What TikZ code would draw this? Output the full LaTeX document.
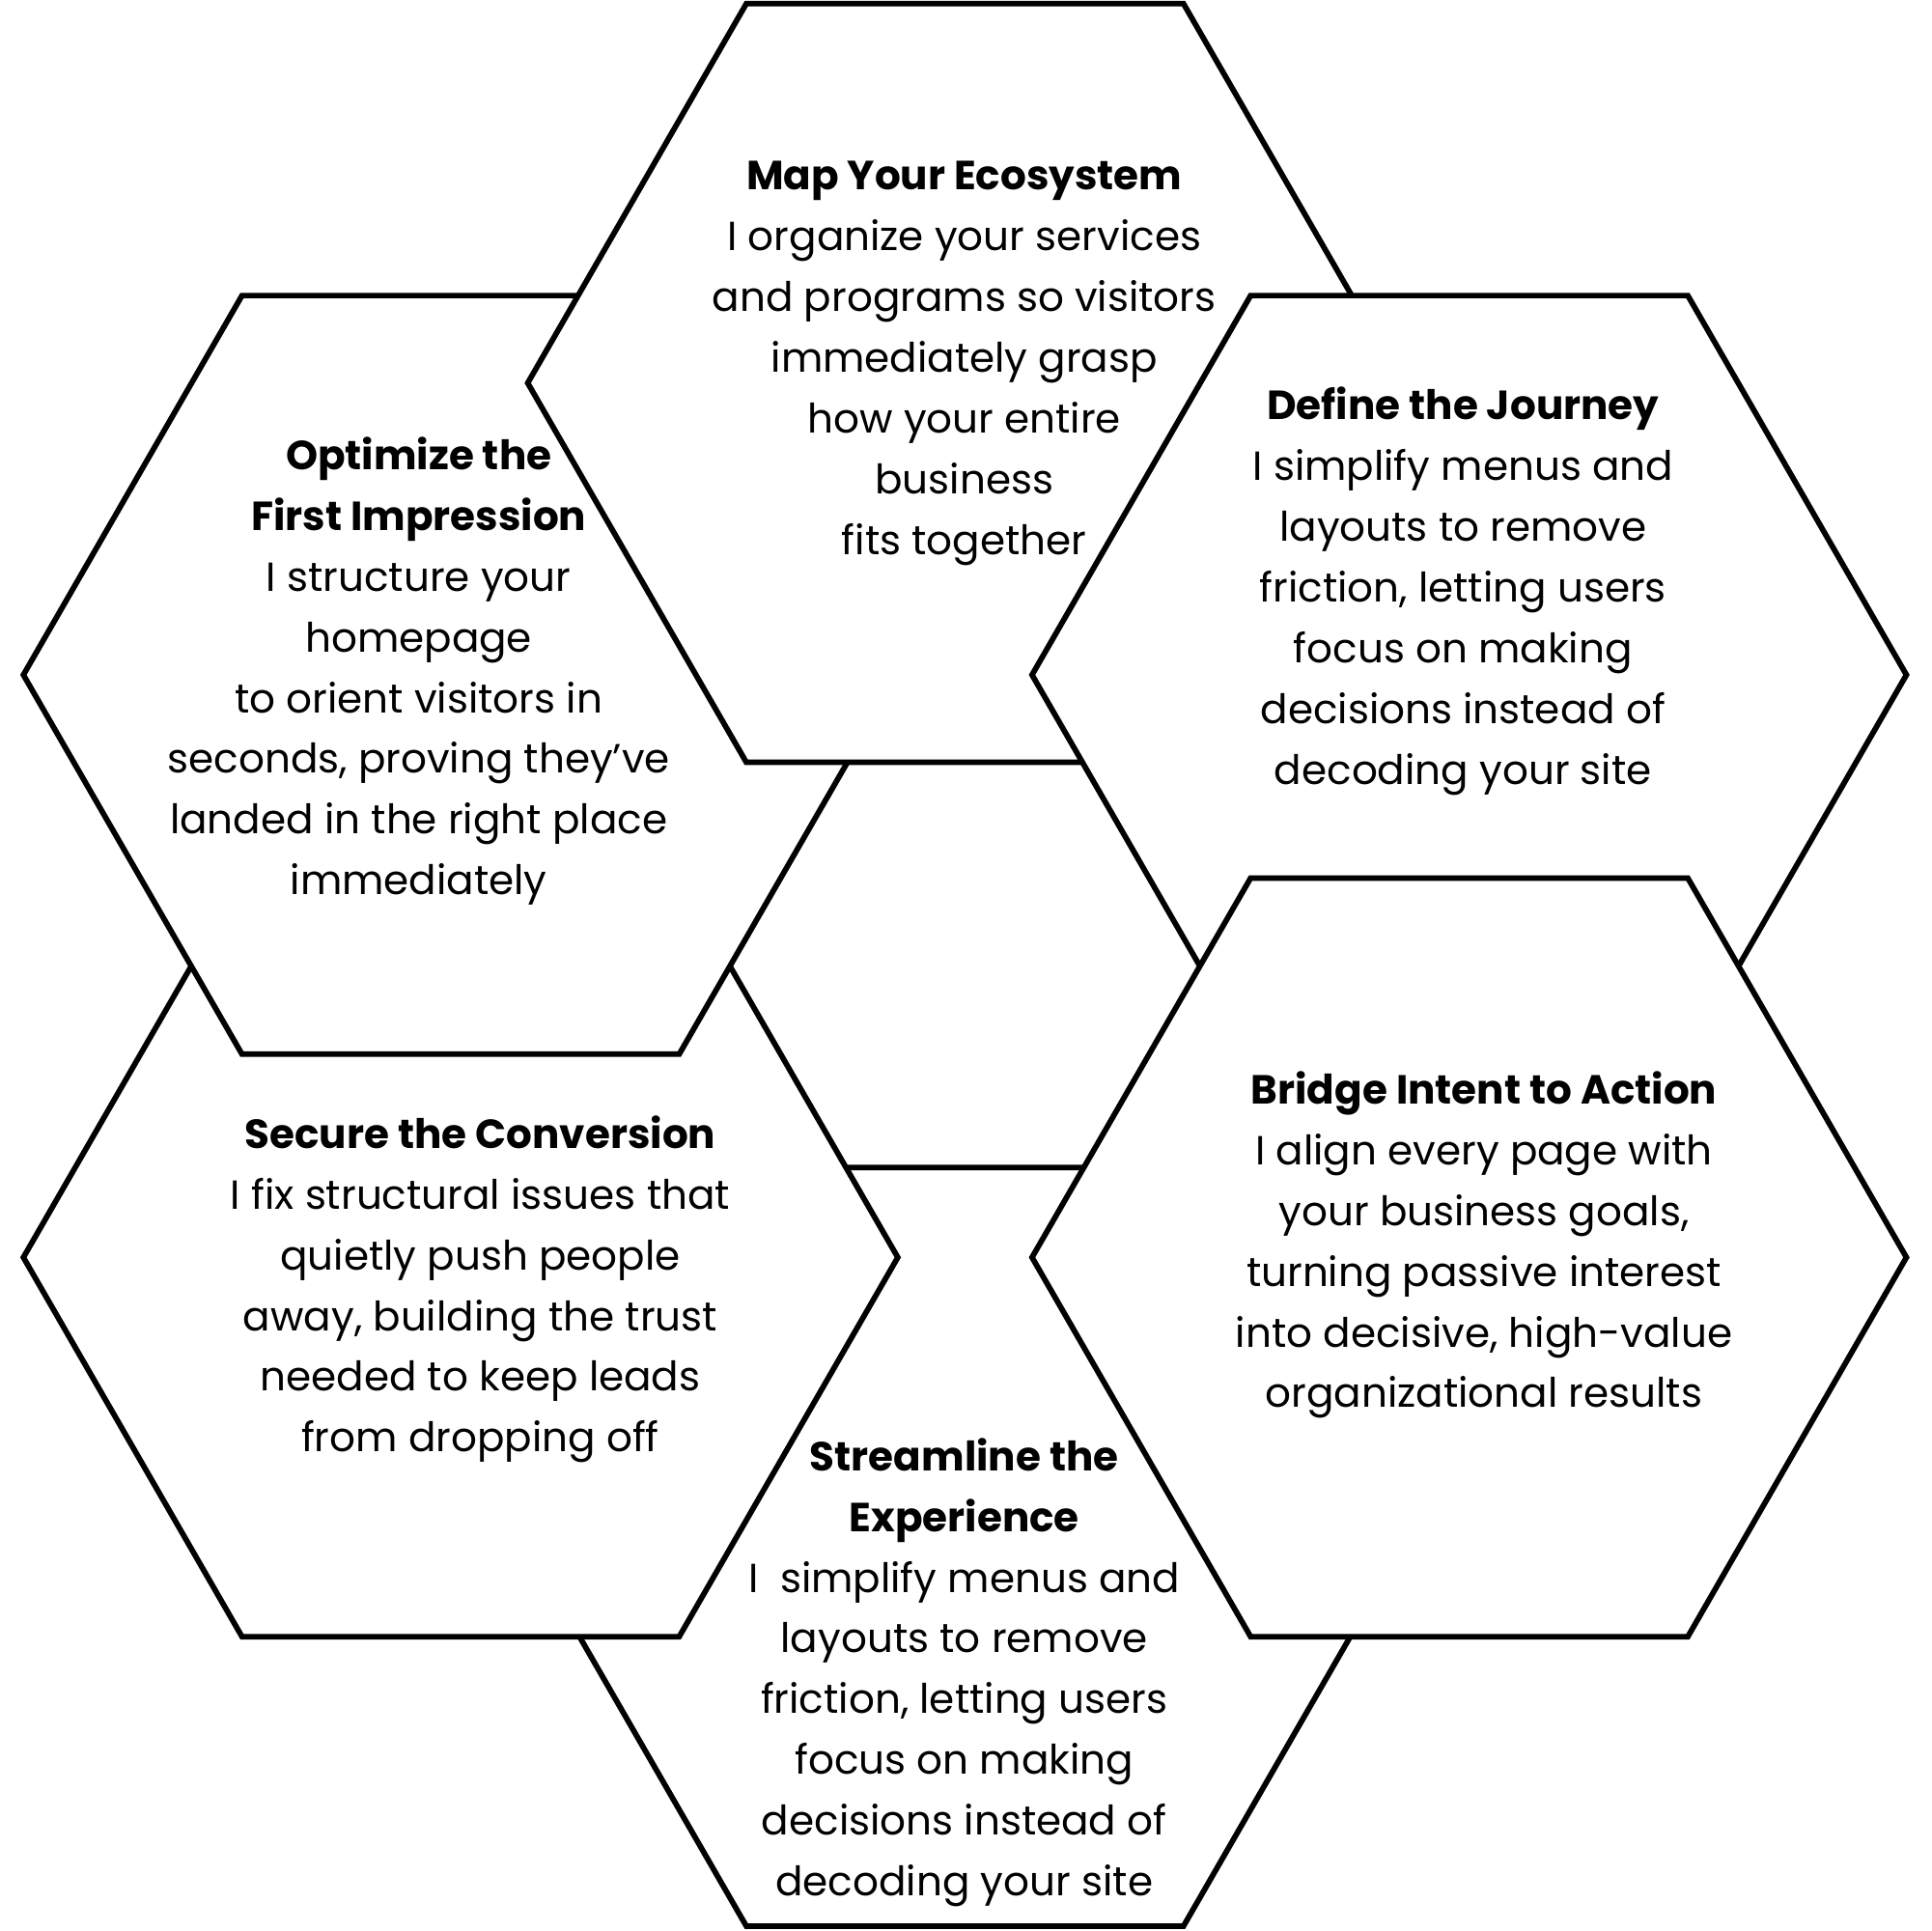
\documentclass[tikz,border=0pt]{standalone}
\usepackage{fontspec}
\setmainfont{Poppins}
\begin{document}
\begin{tikzpicture}[x=1pt,y=-1pt,
  hexa/.style={draw=black,fill=white,line width=4.5pt,line join=miter},
  txt/.style={align=center,font=\fontsize{33}{49.3}\selectfont,inner sep=0pt}]
\useasboundingbox (0,0) rectangle (1568,1568);
\newcommand\hexg[2]{\draw[hexa] (#1-355,#2) -- (#1-177.5,#2-308) -- (#1+177.5,#2-308) -- (#1+355,#2) -- (#1+177.5,#2+308) -- (#1-177.5,#2+308) -- cycle;}
\hexg{783.5}{1256}
\hexg{374}{1021}
\hexg{374}{548}
\hexg{783.5}{311}
\hexg{1193}{548}
\hexg{1193}{1021}
\node[txt] (t1) at (783,295) {\textbf{Map Your Ecosystem}\\I organize your services\\and programs so visitors\\immediately grasp\\how your entire\\business\\fits together};
\node[txt] (t2) at (340,545) {\textbf{Optimize the}\\\textbf{First Impression}\\I structure your\\homepage\\to orient visitors in\\seconds, proving they’ve\\landed in the right place\\immediately};
\node[txt] (t3) at (1188,480) {\textbf{Define the Journey}\\I simplify menus and\\layouts to remove\\friction, letting users\\focus on making\\decisions instead of\\decoding your site};
\node[txt] (t4) at (390,1047) {\textbf{Secure the Conversion}\\I fix structural issues that\\quietly push people\\away, building the trust\\needed to keep leads\\from dropping off};
\node[txt] (t5) at (1205,1011) {\textbf{Bridge Intent to Action}\\I align every page with\\your business goals,\\turning passive interest\\into decisive, high-value\\organizational results};
\node[txt] (t6) at (783,1358) {\textbf{Streamline the}\\\textbf{Experience}\\I\ \ simplify menus and\\layouts to remove\\friction, letting users\\focus on making\\decisions instead of\\decoding your site};
\end{tikzpicture}
\end{document}
